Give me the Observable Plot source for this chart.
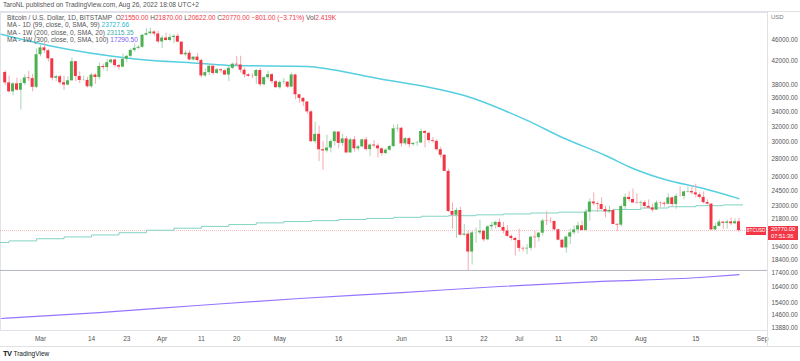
<!DOCTYPE html>
<html><head><meta charset="utf-8">
<script src="https://cdn.jsdelivr.net/npm/d3@7"></script>
<script src="https://cdn.jsdelivr.net/npm/@observablehq/plot@0.6"></script>
<style>
html,body{margin:0;padding:0;background:#fff;}
#wrap{position:relative;width:800px;height:361px;overflow:hidden;font-family:"Liberation Sans",Arial,sans-serif;}
.t{position:absolute;white-space:nowrap;font-size:6.6px;color:#555;line-height:1;}
.ln{position:absolute;background:#dfe1e6;}
</style></head>
<body><div id="wrap"></div>
<script>
// ---- data: BTC/USD daily (Bitstamp), 2022-02-20 .. 2022-08-26 ----
const firstDay = "2022-02-20";
const opens = [
40100,38400,37000,38250,37250,38300,39200,39100,37700,
43180,44420,43900,42450,39150,39400,38420,38060,38740,41940,39440,38790,38810,37790,39670,39280,41110,40930,41770,42240,41260,41000,42370,42890,43960,44340,44540,46830,47130,47450,47070,
45540,46280,45810,46400,46620,45500,43170,43440,42250,42750,42160,39530,40080,41150,39940,40550,40390,39680,40800,41500,41370,40480,39710,39470,39450,40430,38110,39240,39740,38600,
37640,38470,38520,37730,39690,36550,36010,35470,34040,30070,31000,29080,28940,29290,30080,31300,29860,30420,28690,30300,29190,29430,30300,29100,29650,29540,29190,28620,29030,29470,31720,
31790,29800,30450,29700,29860,29900,31370,31130,30210,30110,29080,28420,26570,22490,22140,22580,20380,20470,19000,20570,20580,20710,19990,21100,21230,21490,21040,20730,20280,20100,
19930,19290,19250,19300,20210,20170,20550,21620,21590,21580,20840,19960,19330,20220,20580,20830,21190,20780,22430,23390,23220,23150,22680,22450,22590,21310,21250,22950,23850,23640,23300,
23270,23330,22970,22820,22620,23300,23270,23180,23800,23150,23950,23940,24400,24440,24300,24100,23850,23340,23190,20830,21140,21520,21410,21530,21370,21550];
const highs = [
40400,39500,38450,39200,38900,39700,40300,39800,44200,
44900,45400,44100,42500,39650,39650,39500,39400,42600,42000,40200,39500,39300,39900,39900,41700,41500,42300,42400,42300,41500,43300,43000,44200,45100,44800,46900,48100,48200,47700,47600,
46700,47200,47000,46900,47100,45500,43900,43900,42800,43400,42400,40700,41500,41500,40800,40700,40600,41100,41700,42900,42900,40800,39900,39900,40600,40800,39400,40300,39900,38800,
38700,39100,38600,40000,39800,36600,36100,35500,34200,32600,32100,30100,30900,30300,31400,31300,31000,30700,30500,30700,29600,30400,30600,29800,30200,29800,29300,29200,29600,32200,32300,
31900,30600,30600,29900,30100,31700,31500,31300,30600,30300,29400,28500,26800,23300,22800,22900,21300,20700,20700,21000,21700,20800,21200,21500,21600,21800,21500,21200,20400,20200,
20900,19400,19600,20300,20700,20600,21800,22500,21900,21600,20900,20000,20300,20900,21200,21500,21600,22700,23700,24300,23400,23800,23000,23000,22700,21400,23100,24200,24400,24700,24200,
23500,23500,23600,23200,23500,23400,23400,24200,23900,24200,24900,24500,24900,25000,25200,24300,24400,23600,23200,21400,21700,21500,21700,21900,21800,21870];
const lows = [
38000,36800,36400,37100,34300,38000,38600,37000,37500,
42800,43400,41900,38700,38600,38100,37200,37900,38700,38600,38300,38700,37600,37600,38200,38900,40500,40200,41500,40900,40500,40900,41800,42600,43600,44100,44400,46700,46900,46600,45200,
44300,45700,45600,45200,45400,43100,42800,42100,42100,41900,39200,39300,39600,39600,39800,40000,39600,38600,40600,41100,40000,39200,39300,39100,38200,37800,37900,38900,38200,37600,
37400,38100,37500,37700,35800,35300,34800,33700,30000,29800,27700,26700,28700,28700,29500,29200,29500,28700,28700,28800,28900,29300,28900,28300,29300,28100,28300,28500,28900,29300,31300,
29400,29600,29300,29500,29500,29900,29300,29900,29900,28900,28100,26550,22400,20900,20100,20300,20300,17600,18000,19700,20400,19800,19900,20800,20900,21000,20500,20200,19900,18700,
19000,19000,18800,19100,19300,19800,20300,21200,21400,20700,19900,19300,18900,19600,20400,20500,20700,20750,21600,23000,22400,22600,21900,22300,21300,20700,21100,22600,23400,23400,23200,
22800,22700,22700,22400,22600,22900,22900,23100,22900,22700,23900,23600,24300,24100,23800,23700,23200,23100,20800,20800,21100,20900,20900,21200,21300,20622];
const closes = [
38400,37000,38250,37250,38300,39200,39100,37700,43180,
44420,43900,42450,39150,39400,38420,38060,38740,41940,39440,38790,38810,37790,39670,39280,41110,40930,41770,42240,41260,41000,42370,42890,43960,44340,44540,46830,47130,47450,47070,45540,
46280,45810,46400,46620,45500,43170,43440,42250,42750,42160,39530,40080,41150,39940,40550,40390,39680,40800,41500,41370,40480,39710,39470,39450,40430,38110,39240,39740,38600,37640,
38470,38520,37730,39690,36550,36010,35470,34040,30070,31000,29080,28940,29290,30080,31300,29860,30420,28690,30300,29190,29430,30300,29100,29650,29540,29190,28620,29030,29470,31720,31790,
29800,30450,29700,29860,29900,31370,31130,30210,30110,29080,28420,26570,22490,22140,22580,20380,20470,19000,20570,20580,20710,19990,21100,21230,21490,21040,20730,20280,20100,19930,
19290,19250,19300,20210,20170,20550,21620,21590,21580,20840,19960,19330,20220,20580,20830,21190,20780,22430,23390,23220,23150,22680,22450,22590,21310,21250,22950,23850,23640,23300,23270,
23330,22970,22820,22620,23300,23270,23180,23800,23150,23950,23940,24400,24440,24300,24100,23850,23340,23190,20830,21140,21520,21410,21530,21370,21550,20770];

// MA 1D (99)
const ma99Dates  = ["2022-02-19","2022-03-03","2022-03-24","2022-04-11","2022-04-19","2022-05-08","2022-05-14","2022-05-26","2022-06-07","2022-06-17","2022-07-03","2022-07-12","2022-07-23","2022-07-30","2022-08-08","2022-08-16","2022-08-26"];
const ma99Values = [47000,44860,42510,41630,41290,41110,40600,39110,37830,36440,32850,30600,28390,26900,25590,24850,23728];
// MA 1W (200) weekly steps
const ma200Dates  = ["2022-02-14","2022-02-21","2022-02-28","2022-03-07","2022-03-14","2022-03-21","2022-03-28","2022-04-04","2022-04-11","2022-04-18","2022-04-25","2022-05-02","2022-05-09","2022-05-16","2022-05-23","2022-05-30","2022-06-06","2022-06-13","2022-06-20","2022-06-27","2022-07-04","2022-07-11","2022-07-18","2022-07-25","2022-08-01","2022-08-08","2022-08-15","2022-08-22","2022-08-27"];
const ma200Values = [19770,19900,20080,20230,20400,20590,20800,20980,21140,21300,21450,21570,21650,21750,21850,21950,22050,22100,22180,22260,22350,22430,22550,22680,22820,22940,23040,23115,23115];
// MA 1W (300)
const ma300Dates  = ["2022-02-19","2022-03-16","2022-04-10","2022-05-06","2022-06-01","2022-06-26","2022-07-22","2022-08-16","2022-08-26"];
const ma300Values = [14410,14770,15210,15660,16050,16460,16810,17090,17290];

const xTickDates  = ["2022-03-01","2022-03-14","2022-03-23","2022-04-01","2022-04-11","2022-04-20","2022-05-01","2022-05-16","2022-06-01","2022-06-13","2022-06-22","2022-07-01","2022-07-11","2022-07-20","2022-08-01","2022-08-15","2022-09-01"];
const xTickLabels = ["Mar","14","23","Apr","11","20","May","16","Jun","13","22","Jul","11","20","Aug","15","Sep"];
const yTickValues = [46000,42000,38000,36000,34000,32000,30000,28000,26000,24500,23000,21800,19400,18400,17400,16400,15400,14600,13880];
const lastClose = 20770;
const juneLow = 17600;

// ---- build ----
const DAY = 864e5;
const d0 = new Date(firstDay + "T00:00:00Z");
const candles = closes.map((c, i) => {
  const d = new Date(+d0 + i * DAY);
  const up = c >= opens[i];
  return {date: d, x1: new Date(+d - 0.38 * DAY), x2: new Date(+d + 0.38 * DAY),
    open: opens[i], high: highs[i], low: lows[i], close: c,
    body: up ? "#4caf50" : "#f23645", wick: up ? "#a9d4b4" : "#f6a9b0"};
});
const toDate = s => new Date(s + "T00:00:00Z");
const ma99 = ma99Dates.map((s, i) => ({date: toDate(s), v: ma99Values[i]}));
const ma200 = ma200Dates.map((s, i) => ({date: toDate(s), v: ma200Values[i]}));
const ma300 = ma300Dates.map((s, i) => ({date: toDate(s), v: ma300Values[i]}));
const xt = xTickDates.map((s, i) => ({date: toDate(s), label: xTickLabels[i]}));

const xStart = new Date(Date.UTC(2022, 2, 1) - 10.194 * DAY);
const xEnd = new Date(Date.UTC(2022, 8, 1) + 1.274 * DAY);

const chart = Plot.plot({
  width: 800, height: 361,
  marginLeft: 0, marginRight: 33, marginTop: 12, marginBottom: 31,
  x: {type: "utc", domain: [xStart, xEnd], axis: null},
  y: {type: "log", domain: [13708, 51468], axis: null},
  color: {type: "identity"},
  style: {fontFamily: "Liberation Sans, Arial, sans-serif", background: "transparent", overflow: "visible"},
  marks: [
    Plot.frame({stroke: "#e0e3eb"}),
    Plot.ruleY([juneLow], {stroke: "#b2b5be", strokeWidth: 1}),
    Plot.ruleY([lastClose], {stroke: "#f23645", strokeOpacity: 0.35, strokeDasharray: "1,1"}),
    Plot.line(ma300, {x: "date", y: "v", stroke: "#9575ff", strokeWidth: 1.2, curve: "monotone-x"}),
    Plot.line(ma200, {x: "date", y: "v", stroke: "#82d3c3", strokeWidth: 1, curve: "step-after"}),
    Plot.line(ma99, {x: "date", y: "v", stroke: "#56cfe1", strokeWidth: 1.5, curve: "monotone-x"}),
    Plot.ruleX(candles, {x: "date", y1: "low", y2: "high", stroke: "wick", strokeWidth: 1}),
    Plot.rect(candles, {x1: "x1", x2: "x2", y1: "open", y2: "close", fill: "body"}),
    Plot.text(xt, {x: "date", text: "label", frameAnchor: "bottom", dy: 10, fontSize: 6.5, fill: "#555"}),
    Plot.text(yTickValues, {y: d => d, text: d => d.toFixed(2), frameAnchor: "right", textAnchor: "start", dx: 4, fontSize: 6.3, fill: "#555"})
  ]
});
const wrap = document.getElementById("wrap");
wrap.appendChild(chart);
const svg = chart.tagName.toLowerCase() === "svg" ? chart : chart.querySelector("svg");
svg.style.position = "absolute"; svg.style.left = "0px"; svg.style.top = "0px";

function add(html, css, cls) {
  const e = document.createElement("div");
  e.className = cls || "t"; e.innerHTML = html; Object.assign(e.style, css); wrap.appendChild(e); return e;
}
// frame lines of axes
add("", {left: "767px", top: "12px", width: "1px", height: "334px"}, "ln");
add("", {left: "0px", top: "346px", width: "800px", height: "1px"}, "ln");
add("", {left: "0px", top: "11px", width: "800px", height: "1px"}, "ln");

// header
add("TaroNL published on TradingView.com, Aug 26, 2022 18:08 UTC+2", {left: "3px", top: "2px"});
const R = "#f23645";
add(`Bitcoin / U.S. Dollar, 1D, BITSTAMP&nbsp; O<span style="color:${R}">21550.00</span> H<span style="color:${R}">21870.00</span> L<span style="color:${R}">20622.00</span> C<span style="color:${R}">20770.00</span> <span style="color:${R}">−801.00 (−3.71%)</span> Vol<span style="color:${R}">2.419K</span>`, {left: "7px", top: "14.5px"});
add(`MA - 1D (99, close, 0, SMA, 99) <span style="color:#1fbcd2">23727.66</span>`, {left: "7px", top: "22px"});
add(`MA - 1W (200, close, 0, SMA, 20) <span style="color:#3fae9f">23115.35</span>`, {left: "7px", top: "29.5px"});
add(`MA - 1W (300, close, 0, SMA, 100) <span style="color:#7e5cf0">17290.50</span>`, {left: "7px", top: "37px"});
add("USD", {left: "771px", top: "14px", fontSize: "6px", color: "#777"});

// last price labels
const py = chart.scale("y").apply(lastClose);
add(`20770.00<br>07:51:36`, {left: "768px", top: (py - 4) + "px", width: "30px", height: "14px", background: R, color: "#fff", fontSize: "5.8px", lineHeight: "6.6px", paddingLeft: "3px", boxSizing: "border-box"});
add(`BTCUSD`, {left: "746px", top: (py - 3.5) + "px", width: "20px", height: "8px", background: R, color: "#fff", fontSize: "4.6px", lineHeight: "8px", textAlign: "center"});

// logo
add(`<b style="font-size:7.5px;color:#131722;letter-spacing:-0.5px">TV</b> <span style="font-size:6.5px;color:#131722">TradingView</span>`, {left: "3px", top: "350px"});
</script></body></html>
